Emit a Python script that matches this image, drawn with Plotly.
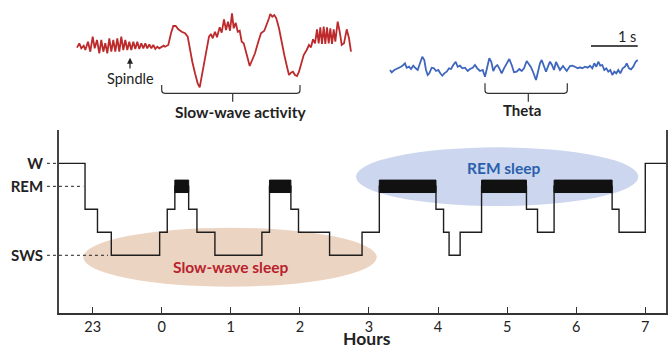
import plotly.graph_objects as go

# ---------------- Hypnogram data ----------------
stage_times = [-1.49, -1.11, -0.93, -0.73, -0.03, 0.08, 0.19, 0.39, 0.51, 0.77,
               1.45, 1.56, 1.87, 1.98, 2.43, 2.90, 3.15, 3.97, 4.08, 4.16,
               4.32, 4.63, 5.28, 5.44, 5.68, 6.52, 6.62, 7.00, 7.30]
stages = ['W', 'S1', 'S2', 'SWS', 'S2', 'S1', 'REM', 'S1', 'S2', 'SWS',
          'S2', 'REM', 'S1', 'S2', 'SWS', 'S2', 'REM', 'S1', 'S2', 'SWS',
          'S2', 'REM', 'S1', 'S2', 'REM', 'S1', 'S2', 'W', 'W']
stage_level = {'W': 4, 'REM': 3, 'S1': 2, 'S2': 1, 'SWS': 0}

hour_ticks = [-1, 0, 1, 2, 3, 4, 5, 6, 7]
hour_labels = ['23', '0', '1', '2', '3', '4', '5', '6', '7']
stage_ticks = [4, 3, 0]
stage_labels = ['W', 'REM', 'SWS']

# ---------------- EEG traces (samples at ~46.7 /s, amplitude arbitrary) ----------------
fs = 46.7
red_t = [0, 2.3, 4.3, 6.7, 8.3, 11.0, 13.3, 15.7, 17.7, 20.0, 22.3, 24.3, 26.3, 28.3, 30.3,
         32.3, 34.3, 36.3, 38.3, 40.3, 42.3, 44.3, 46.3, 48.3, 50.3, 52.3, 54.3, 56.3, 58.3,
         60.3, 62.3, 64.3, 66.3, 68.3, 70.3, 72.3, 74.3, 76.3, 78.3, 80.3, 82.3, 84.3, 86.7,
         88.0, 91.3, 94.0, 96.3, 98.7, 101.3, 104.7, 108.0, 110.7, 113.0, 115.3, 118.0, 120.7,
         122.7, 124.7, 126.7, 129.3, 132.0, 134.0, 135.7, 138.0, 140.0, 142.7, 144.7, 147.0,
         149.0, 151.0, 153.0, 155.0, 156.7, 158.7, 160.7, 162.7, 164.7, 166.7, 168.3, 170.3,
         172.7, 175.3, 178.0, 181.3, 184.0, 187.3, 189.7, 192.0, 193.3, 195.3, 197.3, 199.3,
         202.0, 204.7, 207.3, 210.0, 212.0, 214.0, 216.0, 218.0, 220.0, 222.0, 224.0, 226.7,
         229.7, 232.0, 234.0, 236.0, 238.0, 240.0, 241.7, 243.3, 245.0, 246.7, 248.3, 250.0,
         251.7, 253.3, 255.0, 256.7, 258.3, 260.7, 262.7, 264.7, 267.0, 269.7, 272.0, 274.0]
red_amp = [-2.7, 1.7, -3.3, -0.7, -5.0, 3.3, -6.7, 8.3, -3.3, 5.0, -8.3, 5.0, -6.7, 1.7, -8.3,
           6.7, -6.7, 5.0, -6.7, 6.7, -6.7, 8.3, -5.0, 5.0, -5.0, 3.3, -5.0, 3.3, -4.0,
           3.3, -4.0, 1.7, -3.3, 1.7, -3.3, 0.7, -3.3, 0.0, -4.0, -1.7, -3.3, -1.7, -0.7,
           -1.7, 0.0, 11.7, 19.0, 19.0, 15.7, 13.3, 11.7, 8.3, -5.0, -16.7, -28.3, -38.3,
           -42.3, -31.7, -18.3, -3.3, 8.3, 11.0, 6.7, 13.3, 7.7, 17.7, 12.3, 25.7,
           15.0, 23.3, 14.3, 31.7, 16.7, 22.3, 13.3, 14.3, 3.3, 1.7, -3.3, -11.7,
           -21.0, -15.0, -8.3, 3.3, 11.7, 14.3, 20.0, 26.7, 31.0, 28.3, 30.0, 26.7,
           16.7, 1.7, -10.0, -21.7, -30.0, -27.7, -26.7, -30.0, -31.0, -26.7, -18.3, -10.0,
           -5.0, 0.0, -2.3, 5.7, 1.7, 15.7, 1.7, 17.7, 1.0, 18.3, 1.0, 17.7,
           1.7, 16.7, 1.0, 15.7, 3.3, 23.3, 13.3, 0.0, 1.7, 15.7, 6.7, -6.7]

blue_t = [313.0, 314.7, 317.3, 319.7, 322.0, 324.0, 326.3, 328.0, 329.7, 332.0, 334.0, 336.3,
          338.7, 340.7, 343.0, 345.3, 347.3, 349.0, 350.7, 352.3, 354.7, 357.0, 359.0, 361.3,
          363.3, 365.3, 367.3, 369.7, 372.0, 374.0, 376.3, 378.7, 380.7, 383.0, 385.3, 388.0,
          390.7, 393.0, 395.7, 398.0, 400.3, 403.0, 405.7, 408.0, 410.3, 412.3, 414.3, 416.3,
          418.3, 420.3, 422.3, 424.7, 427.0, 429.7, 432.3, 434.7, 437.0, 439.7, 442.3, 444.7,
          447.0, 449.7, 451.7, 453.7, 455.7, 457.3, 459.0, 461.0, 463.0, 464.7, 467.0, 469.0,
          471.3, 473.0, 475.0, 477.0, 479.0, 483.0, 486.0, 489.7, 493.0, 495.3, 498.0, 500.7,
          503.0, 505.3, 508.0, 510.7, 513.0, 515.3, 517.3, 519.3, 521.3, 523.3, 525.3, 527.3,
          529.3, 531.3, 533.3, 535.3, 537.3, 539.3, 541.3, 543.3, 545.7, 548.0, 549.7, 552.0,
          554.0, 556.3, 558.7, 560.7]
blue_amp = [-2.0, -4.3, -2.0, -1.0, -0.3, 1.3, 3.0, 4.7, 0.3, 1.3, -1.0, 2.3,
            -0.3, -2.0, 4.7, 11.3, 8.0, -2.0, -7.0, -5.3, 0.3, -0.3, -3.0, -2.0,
            -5.3, -7.7, -5.3, -3.7, -0.3, -1.0, 3.0, 6.3, 1.3, 2.3, -0.3, 0.3,
            -3.0, -1.0, 0.3, 3.0, -0.3, -3.0, -2.0, -8.7, 1.3, 9.7, 6.3, -3.0,
            1.3, 3.0, -0.3, -5.3, -0.3, 4.7, 9.0, 3.0, -4.3, -3.7, -1.0, -3.0,
            -0.3, 7.0, 4.7, 1.3, -3.0, -7.0, -12.0, -3.7, 4.7, 8.0, 1.3, -3.7,
            2.3, 6.3, 3.0, -2.0, 6.0, -2.0, 2.0, -3.0, 2.0, 2.3, 1.3, -0.3,
            0.7, -0.3, 1.3, 0.3, 2.3, -0.3, 4.7, 1.3, 6.3, 2.3, 3.0, -2.0,
            -0.3, -3.7, -2.0, -7.0, -3.7, -5.3, -2.0, -5.3, -0.3, 1.3, 4.7, -0.3,
            -1.3, 1.3, 6.3, 8.0]
blue_offset = -23

FONT = "Lato"
RED = "#bd2a2c"
BLUE = "#3f66bd"
INK = '#1e1e1e'

fig = go.Figure()

# top EEG panel
fig.add_trace(go.Scatter(x=red_t, y=red_amp, mode='lines',
                         line=dict(color=RED, width=1.8), xaxis='x2', yaxis='y2',
                         hoverinfo='skip', showlegend=False))
fig.add_trace(go.Scatter(x=blue_t, y=[a + blue_offset for a in blue_amp], mode='lines',
                         line=dict(color=BLUE, width=1.8), xaxis='x2', yaxis='y2',
                         hoverinfo='skip', showlegend=False))

# hypnogram step line
levels = [stage_level[s] for s in stages]
fig.add_trace(go.Scatter(x=stage_times, y=levels, mode='lines', line_shape='hv',
                         line=dict(color=INK, width=1.4),
                         hoverinfo='skip', showlegend=False))

# REM episodes as solid black blocks (drawn above the step line)
half_h = 0.27
rx, ry = [], []
for i, s in enumerate(stages[:-1]):
    if s == 'REM':
        a, b = stage_times[i], stage_times[i + 1]
        lv = stage_level['REM']
        rx += [a, b, b, a, a, None]
        ry += [lv - half_h, lv - half_h, lv + half_h, lv + half_h, lv - half_h, None]
fig.add_trace(go.Scatter(x=rx, y=ry, mode='lines', fill='toself', fillcolor='#111111',
                         line=dict(color='#111111', width=1),
                         hoverinfo='skip', showlegend=False))

shapes = []
# ellipses
shapes.append(dict(type='circle', xref='x', yref='y', x0=-1.135, x1=3.112, y0=-1.365, y1=1.2,
                   fillcolor='#ecd4c3', line=dict(width=0), layer='below'))
shapes.append(dict(type='circle', xref='x', yref='y', x0=2.813, x1=6.899, y0=2.143, y1=4.696,
                   fillcolor='#ccd6ef', line=dict(width=0), layer='below'))
# dotted level guides
for lvl, xend in [(4, 0.0), (3, 0.040), (0, 0.0807)]:
    shapes.append(dict(type='line', xref='paper', yref='y', x0=-0.0198, x1=xend, y0=lvl, y1=lvl,
                       line=dict(color='#222', width=1, dash='dot')))

# brackets in the EEG panel
def bracket(x0, x1, xc, top, bot, tick, r=3):
    return (f"M {x0},{top} L {x0},{bot + r} Q {x0},{bot} {x0 + r},{bot} "
            f"L {x1 - r},{bot} Q {x1},{bot} {x1},{bot + r} L {x1},{top} "
            f"M {xc},{bot} L {xc},{tick}")

shapes.append(dict(type='path', xref='x2', yref='y2',
                   path=bracket(84.7, 223.0, 155.7, -40, -48.3, -56.7),
                   line=dict(color='#333', width=1.2)))
shapes.append(dict(type='path', xref='x2', yref='y2',
                   path=bracket(408.0, 490.3, 451.3, -38.3, -48.3, -56.7),
                   line=dict(color='#333', width=1.2)))
# 1 s scale bar
bar_end = blue_t[-1]
shapes.append(dict(type='line', xref='x2', yref='y2', x0=bar_end - fs, x1=bar_end, y0=-1, y1=-1,
                   line=dict(color='#111', width=1.6)))

annotations = [
    dict(text='Spindle', x=53, y=-33, xref='x2', yref='y2', showarrow=False,
         font=dict(family=FONT, size=14.5, color='#222')),
    dict(text='', x=53, y=-12.7, ax=53, ay=-25, xref='x2', yref='y2', axref='x2', ayref='y2',
         showarrow=True, arrowhead=2, arrowsize=1, arrowwidth=1.2, arrowcolor='#222'),
    dict(text='<b>Slow-wave activity</b>', x=163.8, y=-66.7, xref='x2', yref='y2', showarrow=False,
         font=dict(family=FONT, size=15.5, color='#222')),
    dict(text='<b>Theta</b>', x=445, y=-65, xref='x2', yref='y2', showarrow=False,
         font=dict(family=FONT, size=15, color='#222')),
    dict(text='1 s', x=bar_end, y=9, xref='x2', yref='y2', xanchor='right', showarrow=False,
         font=dict(family=FONT, size=14.5, color='#222')),
    dict(text='<b>Slow-wave sleep</b>', x=0.99, y=-0.5, xref='x', yref='y', showarrow=False,
         font=dict(family=FONT, size=15.5, color='#b8222d')),
    dict(text='<b>REM sleep</b>', x=4.95, y=3.78, xref='x', yref='y', showarrow=False,
         font=dict(family=FONT, size=15.5, color='#2a5fab')),
    dict(text='<b>Hours</b>', x=0.507, y=-0.123, xref='paper', yref='paper', showarrow=False,
         yanchor='bottom', font=dict(family=FONT, size=17.5, color='#222')),
]

fig.update_layout(
    width=672, height=352,
    margin=dict(l=59, r=6, t=0, b=39),
    paper_bgcolor='white', plot_bgcolor='rgba(0,0,0,0)',
    font=dict(family=FONT, size=14, color='#222'),
    showlegend=False,
    shapes=shapes,
    annotations=annotations,
    xaxis=dict(range=[-1.487, 7.30], tickvals=hour_ticks, ticktext=hour_labels,
               ticks='inside', ticklen=6, tickwidth=1.2, tickcolor='#333',
               showline=True, linecolor='#333', linewidth=1.5,
               showgrid=False, zeroline=False, tickfont=dict(family=FONT, size=14.5, color='#222')),
    yaxis=dict(domain=[0, 0.5847], range=[-2.51, 5.45], tickvals=stage_ticks,
               ticktext=[f'<b>{t}</b>' for t in stage_labels],
               ticks='', ticklabelstandoff=11,
               showline=True, mirror=True, linecolor='#444', linewidth=1.8,
               showgrid=False, zeroline=False, tickfont=dict(family=FONT, size=15, color='#222')),
    xaxis2=dict(domain=[0, 1], range=[-18, 589], anchor='y2', visible=False),
    yaxis2=dict(domain=[0.6006, 1], range=[-80, 45], anchor='x2', visible=False),
)

fig.write_html("out.html", config={'displayModeBar': False},
               post_script="document.body.style.margin='0';document.body.style.padding='0';"
                           "document.documentElement.style.overflow='hidden';")
